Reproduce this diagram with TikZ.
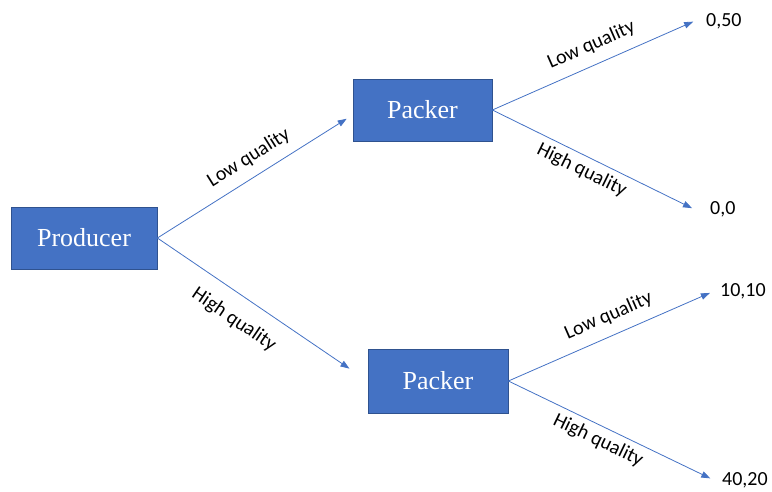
\documentclass[tikz,border=0pt]{standalone}
\usepackage{fontspec}
\setmainfont{Liberation Serif}
\newfontfamily\calibri{Carlito}
\usetikzlibrary{arrows.meta, positioning, calc}
\definecolor{officeblue}{HTML}{4472C4}
\definecolor{officeedge}{HTML}{2F528F}

\begin{document}
\begin{tikzpicture}[
  x=1pt, y=-1pt,
  player/.style={draw=officeedge, line width=0.75pt, fill=officeblue, text=white, minimum height=62pt, inner sep=0pt, font=\fontsize{26}{30}\selectfont},
  payoff/.style={anchor=west, inner sep=0pt, font=\calibri\fontsize{20}{24}\selectfont},
  move/.style={draw=officeblue, line width=0.8pt, -{Triangle[length=9pt, width=6.5pt]}},
  lbl/.style={sloped, inner sep=0pt, font=\calibri\fontsize{20}{24}\selectfont},
]
\useasboundingbox (0,0) rectangle (772,491);

\node[player, minimum width=146pt] (prod) at (84,238) {Producer};
\node[player, minimum width=139pt] (packL) at (422.5,110) {Packer};
\node[player, minimum width=140pt, minimum height=64pt] (packH) at (438,381) {Packer};

\node[payoff] (p1) at (706,21) {0,50};
\node[payoff] (p2) at (710,209) {0,0};
\node[payoff] (p3) at (720,291) {10,10};
\node[payoff] (p4) at (722,480) {40,20};

\draw[move, shorten >=7pt] (prod.east) -- node[lbl, above=10pt, pos=0.52] {Low quality} ([yshift=-5pt]packL.west);
\draw[move, shorten >=22pt] (prod.east) -- node[lbl, below=15.5pt, pos=0.43] {High quality} (packH.west);
\draw[move, shorten >=14pt] (packL.east) -- node[lbl, above=10.5pt, pos=0.5] {Low quality} ([yshift=5pt]p1.west);
\draw[move, shorten >=20pt] (packL.east) -- node[lbl, below=5.5pt, pos=0.44] {High quality} ([yshift=-8pt]p2.west);
\draw[move, shorten >=11pt] (packH.east) -- node[lbl, above=10.5pt, pos=0.51] {Low quality} ([yshift=2.5pt]p3.west);
\draw[move, shorten >=13pt] (packH.east) -- node[lbl, below=5.5pt, pos=0.45] {High quality} ([yshift=-4pt]p4.west);

\end{tikzpicture}
\end{document}
